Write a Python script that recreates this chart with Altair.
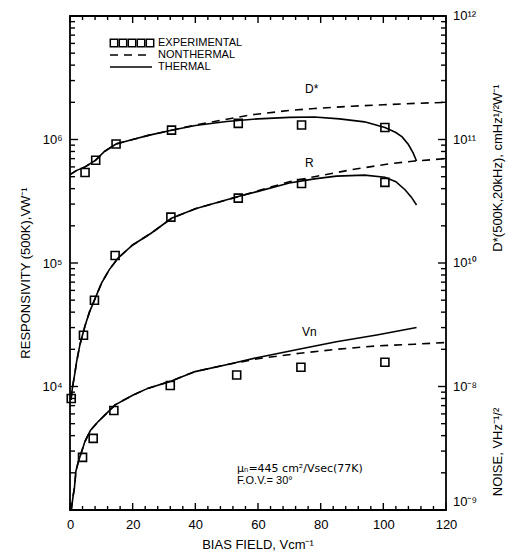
import altair as alt
import pandas as pd

# ---------------- data ----------------
# Experimental points
exp_field_dstar = [4.8, 8.2, 14.7, 32.4, 53.7, 73.9, 100.5]
exp_dstar = [5.4e10, 6.8e10, 9.2e10, 1.19e11, 1.35e11, 1.31e11, 1.25e11]          # cmHz^1/2 W^-1
exp_field_resp = [0.4, 4.3, 7.8, 14.4, 32.2, 53.7, 73.9, 100.5]
exp_resp = [8.0e3, 2.6e4, 5.0e4, 1.15e5, 2.35e5, 3.35e5, 4.4e5, 4.5e5]              # V W^-1
exp_field_noise = [4.0, 7.4, 14.0, 32.0, 53.2, 73.7, 100.5]
exp_noise = [2.67e-9, 3.8e-9, 6.4e-9, 1.02e-8, 1.24e-8, 1.43e-8, 1.57e-8]          # V Hz^-1/2

# Thermal model (solid)
th_field_dstar = [0, 2, 4.8, 8.2, 11, 14.7, 20, 25, 32.4, 40, 50, 60, 70, 78, 86, 94,
                  100.5, 104, 106, 108, 109.5, 110.6]
th_dstar = [5.2e10, 5.6e10, 6.0e10, 6.8e10, 8.0e10, 9.2e10, 1.0e11, 1.08e11, 1.19e11,
            1.30e11, 1.40e11, 1.47e11, 1.51e11, 1.52e11, 1.47e11, 1.39e11, 1.25e11,
            1.14e11, 1.05e11, 9.1e10, 7.8e10, 6.7e10]
th_field_resp = [0.3, 0.75, 1.6, 2.1, 3.2, 4.8, 6.2, 7.8, 10.1, 12.5, 15.4, 20, 26, 32.4,
                 40, 53.7, 60, 70, 78, 85, 94, 100.5, 104, 107, 109, 110.6]
th_resp = [7.8e3, 9.7e3, 1.3e4, 1.58e4, 2.2e4, 3.1e4, 4.0e4, 5.0e4, 6.9e4, 8.8e4, 1.1e5,
           1.4e5, 1.75e5, 2.3e5, 2.75e5, 3.45e5, 3.8e5, 4.45e5, 4.8e5, 5.05e5, 5.15e5,
           4.95e5, 4.55e5, 3.9e5, 3.4e5, 2.95e5]
th_field_noise = [0.4, 1.0, 1.4, 1.9, 2.7, 4.8, 6.5, 9.0, 14.4, 20, 25, 32, 39.9, 51, 60,
                  73.4, 85, 97.9, 110.6]
th_noise = [1.0e-9, 1.3e-9, 1.5e-9, 2.07e-9, 2.48e-9, 3.6e-9, 4.4e-9, 5.2e-9, 7.1e-9,
            8.5e-9, 9.7e-9, 1.1e-8, 1.32e-8, 1.52e-8, 1.72e-8, 2.01e-8, 2.3e-8, 2.61e-8, 3.0e-8]

# Nonthermal model (dashed)
nt_field_dstar = [0, 2, 4.8, 8.2, 11, 14.7, 20, 25, 32.4, 40, 50, 57.6, 70, 78, 90, 100, 110, 120]
nt_dstar = [5.2e10, 5.6e10, 6.0e10, 6.8e10, 8.0e10, 9.2e10, 1.0e11, 1.08e11, 1.19e11,
            1.31e11, 1.46e11, 1.58e11, 1.72e11, 1.78e11, 1.86e11, 1.91e11, 1.96e11, 2.0e11]
nt_field_resp = [0.3, 0.75, 1.6, 2.1, 3.2, 4.8, 6.2, 7.8, 10.1, 12.5, 15.4, 20, 26, 32.4,
                 40, 53.7, 60, 70, 78, 90, 102.7, 110, 120]
nt_resp = [7.8e3, 9.7e3, 1.3e4, 1.58e4, 2.2e4, 3.1e4, 4.0e4, 5.0e4, 6.9e4, 8.8e4, 1.1e5,
           1.4e5, 1.75e5, 2.3e5, 2.75e5, 3.45e5, 3.85e5, 4.55e5, 5.0e5, 5.7e5, 6.4e5, 6.7e5, 7.0e5]
nt_field_noise = [0.4, 1.0, 1.4, 1.9, 2.7, 4.8, 6.5, 9.0, 14.4, 20, 25, 32, 39.9, 51, 60,
                  73.4, 85, 97.9, 110, 120]
nt_noise = [1.0e-9, 1.3e-9, 1.5e-9, 2.07e-9, 2.48e-9, 3.6e-9, 4.4e-9, 5.2e-9, 7.1e-9,
            8.5e-9, 9.7e-9, 1.1e-8, 1.32e-8, 1.52e-8, 1.68e-8, 1.86e-8, 2.0e-8, 2.13e-8,
            2.2e-8, 2.27e-8]

x_minor_ticks = [v for v in range(0, 121, 4) if v % 20 != 0]
x_major_ticks = list(range(0, 121, 20))
y_minor_ticks = [m * 10 ** e for e in range(3, 7) for m in range(2, 10)]
y_major_ticks = [10 ** e for e in range(3, 8)]
right_label_values = [10 ** 4, 10 ** 5, 10 ** 6, 10 ** 7]
right_labels = ["10⁻⁸", "10¹⁰", "10¹¹", "10¹²"]
right_bottom_value = [10 ** 3]
right_bottom_label = ["10⁻⁹"]

# The three quantities share one log frame: responsivity in V/W on the left,
# D* (x1e-5) and noise (x1e12) read against the right-hand decades.
to_frame = {"D*": 1e-5, "R": 1.0, "Vn": 1e12}


def frame_rows(series, fields, values):
    return [{"series": series, "field": f, "v": v * to_frame[series]}
            for f, v in zip(fields, values)]


thermal_df = pd.DataFrame(frame_rows("D*", th_field_dstar, th_dstar)
                          + frame_rows("R", th_field_resp, th_resp)
                          + frame_rows("Vn", th_field_noise, th_noise))
nonthermal_df = pd.DataFrame(frame_rows("D*", nt_field_dstar, nt_dstar)
                             + frame_rows("R", nt_field_resp, nt_resp)
                             + frame_rows("Vn", nt_field_noise, nt_noise))
exp_df = pd.DataFrame(frame_rows("D*", exp_field_dstar, exp_dstar)
                      + frame_rows("R", exp_field_resp, exp_resp)
                      + frame_rows("Vn", exp_field_noise, exp_noise))

W, H = 376, 494
FONT = "Liberation Sans"

x_scale = alt.Scale(domain=[0, 120], nice=False, zero=False)
y_scale = alt.Scale(type="log", domain=[1e3, 1e7], nice=False)

x_axis = alt.Axis(values=x_major_ticks, title=None, grid=False, ticks=False, domain=False,
                  labelFlush=False, labelOverlap=False, labelPadding=8)
y_axis = alt.Axis(values=y_major_ticks, title=None, grid=False, ticks=False, domain=False,
                  labelExpr="datum.value == 10000 ? '10⁴' : datum.value == 100000 ? '10⁵' : "
                            "datum.value == 1000000 ? '10⁶' : ''",
                  labelOverlap=False, labelPadding=8)

xe = alt.X("field:Q", scale=x_scale, axis=x_axis)
ye = alt.Y("v:Q", scale=y_scale, axis=y_axis)

thermal = alt.Chart(thermal_df).mark_line(color="black", strokeWidth=1.6).encode(
    x=xe, y=ye, detail="series:N")
nonthermal = alt.Chart(nonthermal_df).mark_line(color="black", strokeWidth=1.6,
                                                 strokeDash=[8, 6]).encode(
    x=xe, y=ye, detail="series:N")
points = alt.Chart(exp_df).mark_point(shape="square", size=64, filled=False, color="black",
                                      strokeWidth=1.6, opacity=1).encode(x=xe, y=ye)


# inward tick marks on all four sides, placed through the shared scales
def x_ticks(values, length):
    base = alt.Chart(pd.DataFrame({"field": values})).mark_rule(color="black", strokeWidth=1.4)
    return [base.encode(x=xe, y=alt.value(H), y2=alt.value(H - length)),
            base.encode(x=xe, y=alt.value(0), y2=alt.value(length))]


def y_ticks(values, length):
    base = alt.Chart(pd.DataFrame({"v": values})).mark_rule(color="black", strokeWidth=1.4)
    return [base.encode(y=ye, x=alt.value(0), x2=alt.value(length)),
            base.encode(y=ye, x=alt.value(W), x2=alt.value(W - length))]


tick_layers = (x_ticks(x_minor_ticks, 4) + x_ticks(x_major_ticks, 7)
               + y_ticks(y_minor_ticks, 5) + y_ticks(y_major_ticks, 8))

# right-hand decade labels (D* and noise), placed through the y scale
right_lab = alt.Chart(pd.DataFrame({"v": right_label_values, "t": right_labels})).mark_text(
    font=FONT, fontSize=13, align="left", baseline="middle", color="black").encode(
    y=ye, x=alt.value(W + 7), text="t:N")
right_lab_bottom = alt.Chart(pd.DataFrame({"v": right_bottom_value, "t": right_bottom_label})).mark_text(
    font=FONT, fontSize=13, align="left", baseline="middle", color="black", dy=-8).encode(
    y=ye, x=alt.value(W + 7), text="t:N")


def label(text, x, y, size=11, angle=0, align="left", font=FONT):
    return alt.Chart(pd.DataFrame({"t": [text]})).mark_text(
        font=font, fontSize=size, angle=angle, align=align, baseline="middle", color="black"
    ).encode(text="t:N", x=alt.value(x), y=alt.value(y))


legend_sq = alt.Chart(pd.DataFrame({"i": list(range(5))})).transform_calculate(
    px="44 + datum.i * 9").mark_point(shape="square", size=55, filled=False, color="black",
                                      strokeWidth=1.5, opacity=1).encode(
    x=alt.X("px:Q", scale=None), y=alt.value(27))
legend_dash = alt.Chart(pd.DataFrame({"a": [0]})).mark_rule(
    color="black", strokeWidth=1.6, strokeDash=[8, 6]).encode(
    x=alt.value(40), x2=alt.value(82), y=alt.value(39))
legend_solid = alt.Chart(pd.DataFrame({"a": [0]})).mark_rule(
    color="black", strokeWidth=1.6).encode(
    x=alt.value(40), x2=alt.value(82), y=alt.value(51))

texts = [
    label("EXPERIMENTAL", 88, 27),
    label("NONTHERMAL", 88, 39),
    label("THERMAL", 88, 51),
    label("D*", 235, 73, size=12),
    label("R", 235, 147, size=12),
    label("Vn", 232, 316, size=12),
    label("μₙ=445 cm²/Vsec(77K)", 167, 453, size=11, font="DejaVu Sans"),
    label("F.O.V.= 30°", 167, 465, size=11),
    label("BIAS FIELD, Vcm⁻¹", W / 2, 529, size=13, align="center"),
    label("RESPONSIVITY  (500K),VW⁻¹", -44, H / 2 + 10, size=13, angle=270, align="center"),
    label("D*(500K,20kHz),  cmHz¹/²W⁻¹", 428, 152, size=13, angle=270, align="center"),
    label("NOISE,  VHz⁻¹/²", 428, 436, size=13, angle=270, align="center"),
]

chart = alt.layer(thermal, nonthermal, points, *tick_layers, right_lab, right_lab_bottom,
                  legend_sq, legend_dash, legend_solid, *texts).properties(
    width=W, height=H,
    padding={"left": 62, "top": 8, "right": 60, "bottom": 44},
    autosize=alt.AutoSizeParams(type="none"),
).configure_view(stroke="black", strokeWidth=1.8).configure_axis(
    labelFont=FONT, labelFontSize=13, labelColor="black",
)

chart.save("out.html", embed_options={"renderer": "svg", "actions": False})
